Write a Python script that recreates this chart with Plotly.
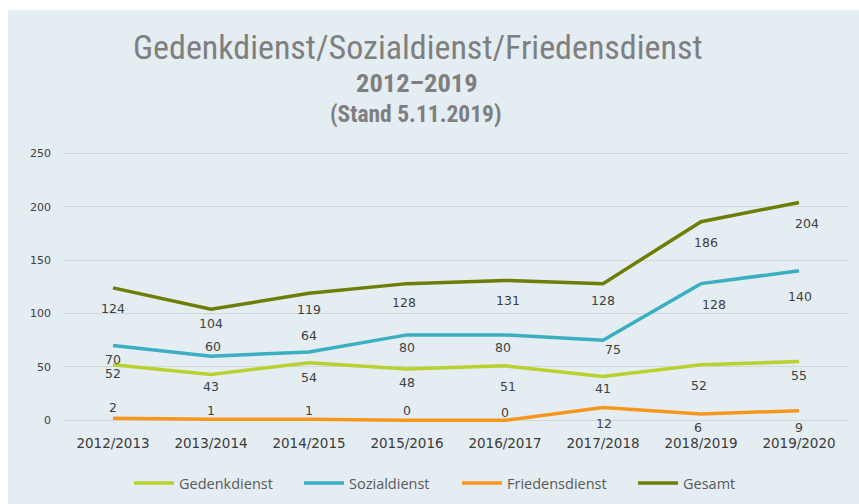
import plotly.graph_objects as go

categories = ["2012/2013", "2013/2014", "2014/2015", "2015/2016",
              "2016/2017", "2017/2018", "2018/2019", "2019/2020"]
gedenkdienst = [52, 43, 54, 48, 51, 41, 52, 55]
sozialdienst = [70, 60, 64, 80, 80, 75, 128, 140]
friedensdienst = [2, 1, 1, 0, 0, 12, 6, 9]
gesamt = [124, 104, 119, 128, 131, 128, 186, 204]

y_ticks = [0, 50, 100, 150, 200, 250]

# label placement (style): pixels below the point (negative = above), and x nudge
ged_dy = [9, 12, 15, 13, 21, 12, 21, 14]
soz_dy = [14, -10, -16, 13, 13, 9, 21, 26]
fri_dy = [-11, -9, -9, -10, -8, 16, 14, 17]
ges_dy = [21, 14, 16, 19, 20, 17, 21, 21]
ged_dx = [0, 0, 0, 0, 3, 0, -2, 0]
soz_dx = [0, 2, 0, 0, -2, 10, 13, 1]
fri_dx = [0, 0, 0, 0, 0, 1, -3, 0]
ges_dx = [0, 0, 0, -3, 3, 0, 5, 8]

W, H = 859, 504
L, R, T, B = 64, 11, 148, 73
pw = W - L - R
ph = H - T - B

def px_x(x):
    return (x - L) / pw

def px_y(y):
    return (H - B - y) / ph

label_font = dict(family="DejaVu Sans", size=12.5, color="#404040")

fig = go.Figure()

series = [
    ("Gedenkdienst", gedenkdienst, "#B9D12F", ged_dy, ged_dx, 115),
    ("Sozialdienst", sozialdienst, "#3AAFC2", soz_dy, soz_dx, 103),
    ("Friedensdienst", friedensdienst, "#F7961E", fri_dy, fri_dx, 121),
    ("Gesamt", gesamt, "#6E7D05", ges_dy, ges_dx, 70),
]

for name, vals, color, dys, dxs, lw in series:
    fig.add_trace(go.Scatter(
        x=categories, y=vals, name=name,
        mode="lines",
        line=dict(color=color, width=3.5),
        cliponaxis=False,
        hoverinfo="skip",
        legendwidth=lw,
    ))
    for c, v, dy, dx in zip(categories, vals, dys, dxs):
        fig.add_annotation(x=c, y=v, text=str(v), showarrow=False,
                           xanchor="center", yanchor="middle",
                           yshift=-dy, xshift=dx, font=label_font)

# background box
fig.add_shape(type="rect", xref="paper", yref="paper",
              x0=px_x(8), x1=px_x(870), y0=px_y(510), y1=px_y(10),
              fillcolor="#E4EDF2", line=dict(width=0), layer="below")

title_font = "Liberation Sans Narrow, Roboto Condensed, Open Sans, sans-serif"
fig.add_annotation(text="Gedenkdienst/Sozialdienst/Friedensdienst",
                   xref="paper", yref="paper", x=px_x(418), y=px_y(47),
                   xanchor="center", yanchor="middle", showarrow=False,
                   font=dict(family=title_font, size=34, color="#7F7F7F"))
fig.add_annotation(text="<b>2012–2019</b>",
                   xref="paper", yref="paper", x=px_x(417), y=px_y(83),
                   xanchor="center", yanchor="middle", showarrow=False,
                   font=dict(family=title_font, size=26.5, color="#7F7F7F"))
fig.add_annotation(text="<b>(Stand 5.11.2019)</b>",
                   xref="paper", yref="paper", x=px_x(416), y=px_y(114),
                   xanchor="center", yanchor="middle", showarrow=False,
                   font=dict(family=title_font, size=23.5, color="#7F7F7F"))

fig.update_layout(
    width=W, height=H,
    margin=dict(l=L, r=R, t=T, b=B, autoexpand=False),
    paper_bgcolor="white",
    plot_bgcolor="rgba(0,0,0,0)",
    showlegend=True,
    legend=dict(orientation="h", x=px_x(129), y=px_y(483),
                xanchor="left", yanchor="middle",
                font=dict(family="Liberation Sans Narrow, Open Sans, sans-serif",
                          size=14.5, color="#595959"),
                bgcolor="rgba(0,0,0,0)", itemwidth=40),
    xaxis=dict(range=[-0.5, 7.5], showgrid=False, showline=False, zeroline=False,
               tickfont=dict(family="DejaVu Sans", size=13.5, color="#3A3A3A"),
               ticks="", ticklabelstandoff=2),
    yaxis=dict(range=[-10, 255], tickvals=y_ticks,
               showgrid=True, gridcolor="#D6D6D6", gridwidth=1,
               zeroline=False, showline=False,
               tickfont=dict(family="DejaVu Sans", size=11, color="#404040"),
               ticks="", ticklabelstandoff=12),
)

fig.write_html("out.html", config={"displayModeBar": False},
               post_script="document.body.style.margin='0';document.body.style.overflow='hidden';")
